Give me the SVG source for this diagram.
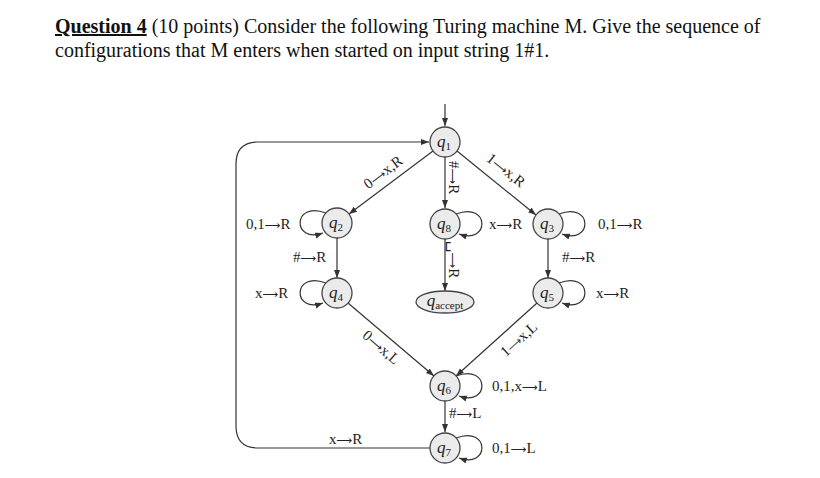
<svg xmlns="http://www.w3.org/2000/svg" width="820" height="478" viewBox="0 0 820 478">
<style>
.title{font-family:"Liberation Serif",serif;font-size:20px;fill:#111}
.st{fill:#ebebeb;stroke:#444;stroke-width:1.3}
.ql{font-family:"Liberation Serif",serif;font-size:17px;font-style:italic;fill:#222;text-anchor:middle}
.sub{font-size:11px;font-style:normal}
.e{fill:none;stroke:#333;stroke-width:1.2}
.lb{font-family:"Liberation Serif","DejaVu Serif",serif;font-size:15px;fill:#222}
.ar{font-family:"DejaVu Sans",sans-serif;font-size:11px}
</style>
<defs>
<marker id="ah" markerWidth="9" markerHeight="7" refX="8" refY="3" orient="auto" markerUnits="userSpaceOnUse">
<path d="M0,0 L8,3 L0,6 z" fill="#333"/>
</marker>
</defs>
<rect width="820" height="478" fill="#fff"/>
<text class="title" x="55" y="33"><tspan font-weight="bold" text-decoration="underline">Question 4</tspan> (10 points) Consider the following Turing machine M. Give the sequence of</text>
<text class="title" x="55" y="57">configurations that M enters when started on input string 1#1.</text>

<g id="connectors">
<path class="e" d="M445,104 V126" marker-end="url(#ah)"/>
<path class="e" d="M433,151 L349,214" marker-end="url(#ah)"/>
<path class="e" d="M445,157 V208" marker-end="url(#ah)"/>
<path class="e" d="M457,151 L536,215" marker-end="url(#ah)"/>
<path class="e" d="M445,239 V291" marker-end="url(#ah)"/>
<path class="e" d="M337,238 V278" marker-end="url(#ah)"/>
<path class="e" d="M548,239 V278" marker-end="url(#ah)"/>
<path class="e" d="M348,303 L434,376" marker-end="url(#ah)"/>
<path class="e" d="M537,303 L456,376" marker-end="url(#ah)"/>
<path class="e" d="M445,401 V432" marker-end="url(#ah)"/>
<path class="e" d="M430,448 H258 Q236,448 236,426 V164 Q236,142 258,142 H429" marker-end="url(#ah)"/>
<!-- self loops -->
<path class="e" d="M326,213 C292,200 292,244 323,233" marker-end="url(#ah)"/>
<path class="e" d="M326,283 C292,270 292,314 323,303" marker-end="url(#ah)"/>
<path class="e" d="M456,214 C490,201 490,245 459,234" marker-end="url(#ah)"/>
<path class="e" d="M559,214 C593,201 593,245 562,234" marker-end="url(#ah)"/>
<path class="e" d="M559,283 C593,270 593,314 562,303" marker-end="url(#ah)"/>
<path class="e" d="M456,376 C490,363 490,407 459,396" marker-end="url(#ah)"/>
<path class="e" d="M456,438 C490,425 490,469 459,458" marker-end="url(#ah)"/>
<!-- labels -->
<text class="lb" transform="translate(386,176) rotate(-37)" text-anchor="middle">0<tspan class="ar">⟶</tspan>x,R</text>
<text class="lb" transform="translate(449,161) rotate(90)">#<tspan class="ar">⟶</tspan>R</text>
<text class="lb" transform="translate(449,241) rotate(90)">␣<tspan class="ar">⟶</tspan>R</text>
<text class="lb" transform="translate(503,174) rotate(38.5)" text-anchor="middle">1<tspan class="ar">⟶</tspan>x,R</text>
<text class="lb" x="489" y="229">x<tspan class="ar">⟶</tspan>R</text>
<text class="lb" x="598" y="229">0,1<tspan class="ar">⟶</tspan>R</text>
<text class="lb" x="562" y="262">#<tspan class="ar">⟶</tspan>R</text>
<text class="lb" x="596" y="298">x<tspan class="ar">⟶</tspan>R</text>
<text class="lb" x="246" y="229">0,1<tspan class="ar">⟶</tspan>R</text>
<text class="lb" x="293" y="262">#<tspan class="ar">⟶</tspan>R</text>
<text class="lb" x="255" y="298">x<tspan class="ar">⟶</tspan>R</text>
<text class="lb" transform="translate(378,351) rotate(41)" text-anchor="middle">0<tspan class="ar">⟶</tspan>x,L</text>
<text class="lb" transform="translate(522,343) rotate(-42)" text-anchor="middle">1<tspan class="ar">⟶</tspan>x,L</text>
<text class="lb" x="492" y="391">0,1,x<tspan class="ar">⟶</tspan>L</text>
<text class="lb" x="449" y="418">#<tspan class="ar">⟶</tspan>L</text>
<text class="lb" x="492" y="453">0,1<tspan class="ar">⟶</tspan>L</text>
<text class="lb" x="329" y="444">x<tspan class="ar">⟶</tspan>R</text>
</g>

<g id="q1"><circle class="st" cx="445" cy="142" r="15"/><text class="ql" x="444" y="147">q<tspan class="sub" dy="3">1</tspan></text></g>
<g id="q2"><circle class="st" cx="337" cy="223" r="15"/><text class="ql" x="336" y="228">q<tspan class="sub" dy="3">2</tspan></text></g>
<g id="q8"><circle class="st" cx="445" cy="224" r="15"/><text class="ql" x="444" y="229">q<tspan class="sub" dy="3">8</tspan></text></g>
<g id="q3"><circle class="st" cx="548" cy="224" r="15"/><text class="ql" x="547" y="229">q<tspan class="sub" dy="3">3</tspan></text></g>
<g id="q4"><circle class="st" cx="337" cy="293" r="15"/><text class="ql" x="336" y="298">q<tspan class="sub" dy="3">4</tspan></text></g>
<g id="qaccept"><ellipse class="st" cx="445" cy="302" rx="29" ry="11"/><text class="ql" x="445" y="306">q<tspan class="sub" dy="3">accept</tspan></text></g>
<g id="q5"><circle class="st" cx="548" cy="293" r="15"/><text class="ql" x="547" y="298">q<tspan class="sub" dy="3">5</tspan></text></g>
<g id="q6"><circle class="st" cx="445" cy="386" r="15"/><text class="ql" x="444" y="391">q<tspan class="sub" dy="3">6</tspan></text></g>
<g id="q7"><circle class="st" cx="445" cy="448" r="15"/><text class="ql" x="444" y="453">q<tspan class="sub" dy="3">7</tspan></text></g>
</svg>
